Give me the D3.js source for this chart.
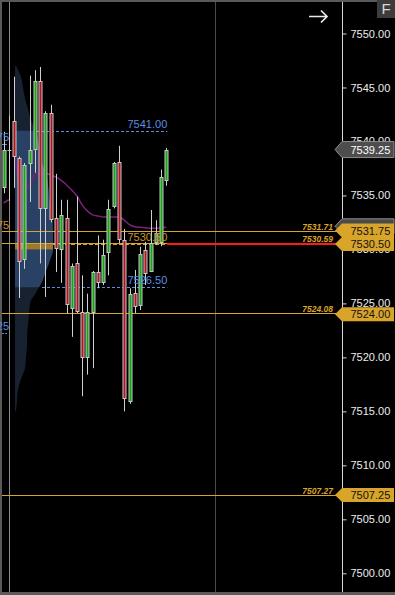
<!DOCTYPE html>
<html>
<head>
<meta charset="utf-8">
<script src="https://cdn.jsdelivr.net/npm/d3@7"></script>
<style>
html, body { margin: 0; padding: 0; background: #000; }
svg { display: block; font-family: "Liberation Sans", Arial, sans-serif; }
</style>
</head>
<body>
<div id="chart"></div>
<script>
// candles, oldest first
const candleOpen  = [7535.7, 7539.25, 7541.9, 7538.5, 7529.0, 7537.9, 7539.2, 7545.6, 7533.7, 7542.6, 7532.9, 7530.0, 7532.9, 7524.5, 7528.7, 7524.2, 7519.9, 7524.1, 7527.9, 7526.9, 7529.6, 7533.9, 7538.1, 7530.9, 7515.9, 7526.0, 7524.75, 7529.95, 7527.95, 7530.6, 7530.6, 7536.4];
const candleHigh  = [7540.9, 7542.4, 7546.0, 7538.6, 7538.0, 7546.1, 7546.6, 7546.9, 7542.8, 7543.4, 7537.0, 7534.6, 7534.6, 7528.7, 7534.9, 7527.6, 7525.9, 7528.0, 7531.3, 7530.9, 7534.6, 7538.1, 7539.6, 7531.9, 7526.4, 7528.1, 7530.25, 7530.7, 7533.65, 7532.7, 7537.4, 7539.4];
const candleLow   = [7535.2, 7534.5, 7535.7, 7525.5, 7528.2, 7534.4, 7537.1, 7528.7, 7525.6, 7532.5, 7527.9, 7526.9, 7524.1, 7521.9, 7524.1, 7516.4, 7518.4, 7519.0, 7526.4, 7526.7, 7527.6, 7533.8, 7530.6, 7515.0, 7515.7, 7524.1, 7524.4, 7526.7, 7527.9, 7530.4, 7530.3, 7535.9];
const candleClose = [7539.2, 7539.25, 7538.6, 7528.9, 7537.8, 7539.2, 7545.6, 7533.7, 7542.6, 7532.7, 7530.0, 7533.2, 7524.8, 7528.5, 7524.2, 7519.9, 7524.2, 7527.9, 7526.9, 7529.5, 7533.7, 7538.0, 7530.9, 7516.2, 7525.9, 7524.7, 7529.6, 7527.7, 7530.6, 7531.5, 7536.75, 7539.25];

// vwap: previous session (first two bars) and the current one
const vwapPrev    = [7534.3, 7534.6];
const vwapSession = [null, null, 7540.1, 7535.9, 7535.5, 7536.0, 7536.9, 7537.1, 7537.05, 7536.9, 7536.7, 7536.4, 7535.97, 7535.5, 7534.95, 7534.1, 7533.55, 7533.2, 7533.1, 7533.0, 7533.0, 7533.0, 7533.0, 7532.7, 7532.3, 7532.1, 7532.05, 7532.0, 7531.95, 7531.95, 7532.0, 7532.05];

// volume profile
const profilePrice  = [7547, 7546, 7545, 7544, 7543, 7542, 7541, 7540, 7539, 7538, 7537, 7536, 7535, 7534, 7533, 7532, 7531, 7530, 7529, 7528, 7527, 7526, 7525, 7524, 7523, 7522, 7521, 7520, 7519, 7518, 7517, 7516, 7515];
const profileVolume = [1, 6, 8, 10, 13, 16, 21, 23, 25, 27, 31, 33, 34, 35, 37, 38, 38, 38, 35, 31, 27, 21, 15, 14, 13, 12, 12, 11, 10, 6, 3, 2, 1];
const valueAreaHigh = 7541.00;
const valueAreaLow  = 7526.50;
const pocPrice      = 7530.50;
const pocVolume     = 38;
// previous session value area (labels cut off at the left edge)
const prevValueArea = [7539.75, 7522.25];

// levels drawn across the chart
const levelPrices = [7531.71, 7530.59, 7524.08, 7507.27];
const levelLabels = ["7531.71", "7530.59", "7524.08", "7507.27"];
const markerPrices = [7531.75, 7530.50, 7524.00, 7507.25];
const lastPrice = 7539.25;
const sessionMarks = [1, 40.3];
const priceTicks = [7500, 7505, 7510, 7515, 7520, 7525, 7530, 7535, 7540, 7545, 7550];

const W = 395, H = 595, axisX = 342;
const gold = "#d9a42a", blue = "#5b8de0";

const svg = d3.select("#chart").append("svg").attr("width", W).attr("height", H);
svg.append("rect").attr("width", W).attr("height", H).attr("fill", "#000");

const y = d3.scaleLinear().domain([7500, 7550]).range([573.3, 33.5]);
const x = d3.scaleLinear().domain([0, 31]).range([3.5, 166.25]);
const xVol = d3.scaleLinear().domain([0, 38]).range([15, 53]);

const plot = svg.append("g");

// session dividers
plot.selectAll(".sess").data(sessionMarks).join("line")
  .attr("x1", d => Math.round(x(d)) + 0.5).attr("x2", d => Math.round(x(d)) + 0.5)
  .attr("y1", 0).attr("y2", H)
  .attr("stroke", (d, i) => i === 0 ? "#8a8a8a" : "#4a4a4a").attr("stroke-width", 1);

// volume profile
const prof = profilePrice.map((p, i) => ({ p, v: profileVolume[i] }));
const area = d3.area().curve(d3.curveMonotoneY)
  .y(d => y(d.p)).x0(xVol(0)).x1(d => xVol(d.v));
plot.append("path").datum(prof).attr("d", area).attr("fill", "#18212f");
svg.append("clipPath").attr("id", "va").append("rect")
  .attr("x", 0).attr("width", W).attr("y", y(valueAreaHigh)).attr("height", y(valueAreaLow) - y(valueAreaHigh));
plot.append("path").datum(prof).attr("d", area).attr("fill", "#2a4166").attr("clip-path", "url(#va)");
plot.append("rect").attr("x", xVol(0)).attr("width", xVol(pocVolume) - xVol(0))
  .attr("y", y(pocPrice)).attr("height", y(pocPrice - 0.5) - y(pocPrice)).attr("fill", "#9d7a2a");

// level lines
plot.selectAll(".lvl").data(levelPrices).join("line")
  .attr("x1", 2).attr("x2", axisX).attr("y1", d => Math.round(y(d)) + 0.5).attr("y2", d => Math.round(y(d)) + 0.5)
  .attr("stroke", gold).attr("stroke-width", 1);
plot.selectAll(".lvlt").data(levelPrices).join("text")
  .attr("x", 333).attr("y", d => Math.round(y(d)) - 1.5).attr("text-anchor", "end")
  .attr("font-size", 8.5).attr("font-weight", "bold").attr("font-style", "italic").attr("fill", gold)
  .text((d, i) => levelLabels[i]);

// value area and poc extensions
const vaStart = p => xVol(profileVolume[profilePrice.indexOf(Math.round(p))]);
plot.selectAll(".va").data([valueAreaHigh, valueAreaLow]).join("line")
  .attr("x1", d => vaStart(d)).attr("x2", x(31) + 1)
  .attr("y1", d => Math.round(y(d)) + 0.5).attr("y2", d => Math.round(y(d)) + 0.5)
  .attr("stroke", blue).attr("stroke-dasharray", "3,2");
plot.selectAll(".pva").data(prevValueArea).join("line")
  .attr("x1", 2).attr("x2", 8)
  .attr("y1", d => Math.round(y(d)) + 0.5).attr("y2", d => Math.round(y(d)) + 0.5)
  .attr("stroke", blue).attr("stroke-dasharray", "2,1");
plot.append("line").attr("x1", xVol(pocVolume)).attr("x2", x(31) + 1)
  .attr("y1", y(pocPrice)).attr("y2", y(pocPrice)).attr("stroke", gold).attr("stroke-width", 2).attr("stroke-dasharray", "4,2");
plot.append("line").attr("x1", x(31) + 1).attr("x2", axisX)
  .attr("y1", y(pocPrice)).attr("y2", y(pocPrice)).attr("stroke", "#ff1a1a").attr("stroke-width", 2);

// vwap
const vline = d3.line().defined(d => d != null).x((d, i) => x(i)).y(d => y(d)).curve(d3.curveMonotoneX);
plot.append("path").attr("d", d3.line().x((d, i) => x(i)).y(d => y(d))(vwapPrev))
  .attr("fill", "none").attr("stroke", "#7d1f7d").attr("stroke-width", 1.5);
plot.append("path").attr("d", vline(vwapSession)).attr("fill", "none").attr("stroke", "#7d1f7d").attr("stroke-width", 1.5);

// candles
const candles = candleOpen.map((o, i) => ({ i, o, h: candleHigh[i], l: candleLow[i], c: candleClose[i] }));
const cg = plot.selectAll(".candle").data(candles).join("g");
cg.append("line")
  .attr("x1", d => Math.round(x(d.i)) + 0.5).attr("x2", d => Math.round(x(d.i)) + 0.5)
  .attr("y1", d => y(d.h)).attr("y2", d => y(d.l)).attr("stroke", "#d0d0d0");
cg.append("rect")
  .attr("x", d => Math.round(x(d.i)) - 1.5).attr("width", 4)
  .attr("y", d => Math.round(y(Math.max(d.o, d.c))))
  .attr("height", d => Math.max(1, Math.round(y(Math.min(d.o, d.c)) - y(Math.max(d.o, d.c)))))
  .attr("fill", "#c8c8c8");
cg.append("rect")
  .attr("x", d => Math.round(x(d.i)) - 0.5).attr("width", 2)
  .attr("y", d => Math.round(y(Math.max(d.o, d.c))) + 1)
  .attr("height", d => Math.max(0, Math.round(y(Math.min(d.o, d.c)) - y(Math.max(d.o, d.c))) - 2))
  .attr("fill", d => d.c >= d.o ? "#13a813" : "#b0141e");

// in-plot labels
plot.selectAll(".vat").data([valueAreaHigh, valueAreaLow]).join("text")
  .attr("x", x(31) + 1).attr("y", d => Math.round(y(d)) - 3).attr("text-anchor", "end")
  .attr("font-size", 11).attr("fill", blue).text(d => d.toFixed(2));
plot.append("text").attr("x", x(31) + 1).attr("y", y(pocPrice) - 3).attr("text-anchor", "end")
  .attr("font-size", 11).attr("fill", "#c9962a").text(pocPrice.toFixed(2));

// frame
svg.append("rect").attr("x", 0).attr("y", 0).attr("width", 2).attr("height", H).attr("fill", "#5a5a5a");
svg.append("rect").attr("x", 0).attr("y", 0).attr("width", W).attr("height", 2).attr("fill", "#5a5a5a");
svg.append("rect").attr("x", 0).attr("y", 592).attr("width", W).attr("height", 3).attr("fill", "#5a5a5a");

// labels cut off at the left edge
svg.selectAll(".pvat").data(prevValueArea).join("text")
  .attr("x", 9).attr("y", d => Math.round(y(d)) - 3).attr("text-anchor", "end")
  .attr("font-size", 11).attr("fill", blue).text(d => d.toFixed(2));
svg.append("text").attr("x", 9).attr("y", Math.round(y(markerPrices[0])) - 2.5).attr("text-anchor", "end")
  .attr("font-size", 11).attr("fill", "#c9962a").text(markerPrices[0].toFixed(2));

// price axis
svg.append("rect").attr("x", axisX).attr("y", 2).attr("width", W - axisX).attr("height", 590).attr("fill", "#000");
svg.append("line").attr("x1", axisX + 0.5).attr("x2", axisX + 0.5).attr("y1", 2).attr("y2", 592).attr("stroke", "#d8d8d8");
const ax = svg.append("g").attr("transform", `translate(${axisX + 0.5},0)`)
  .call(d3.axisRight(y).tickValues(priceTicks).tickSize(4).tickPadding(4).tickFormat(d3.format(".2f")));
ax.select(".domain").remove();
ax.selectAll("line").attr("stroke", "#d8d8d8");
ax.selectAll("text").attr("fill", "#ececec").attr("font-size", 11).attr("font-family", "Liberation Sans, Arial, sans-serif");

// price markers
const marker = (cy, hgt) => `M${axisX - 7},${cy} L${axisX},${cy - hgt / 2} L${W - 1},${cy - hgt / 2} L${W - 1},${cy + hgt / 2} L${axisX},${cy + hgt / 2} Z`;
svg.append("path").attr("d", marker(y(vwapSession[31]) - 1, 15)).attr("fill", "#4a4a4a").attr("stroke", "#8a8a8a");
markerPrices.forEach(p => {
  svg.append("path").attr("d", marker(y(p), 14)).attr("fill", gold);
  svg.append("text").attr("x", axisX + 8.5).attr("y", y(p) + 4).attr("font-size", 11).attr("fill", "#111").text(p.toFixed(2));
});
svg.append("path").attr("d", marker(y(lastPrice), 16)).attr("fill", "#4d4d4d").attr("stroke", "#8c8c8c");
svg.append("text").attr("x", axisX + 8.5).attr("y", y(lastPrice) + 4).attr("font-size", 11).attr("fill", "#fff").text(lastPrice.toFixed(2));

// toolbar bits
svg.append("rect").attr("x", 377).attr("y", 0).attr("width", 18).attr("height", 18).attr("fill", "#3c3c3c");
svg.append("text").attr("x", 386).attr("y", 14).attr("text-anchor", "middle").attr("font-size", 15).attr("fill", "#d8d8d8").text("F");
svg.append("path").attr("d", "M309,16.5 H327 M321,10.5 L327,16.5 L321,22.5")
  .attr("fill", "none").attr("stroke", "#e6e9f0").attr("stroke-width", 1.7);
</script>
</body>
</html>
